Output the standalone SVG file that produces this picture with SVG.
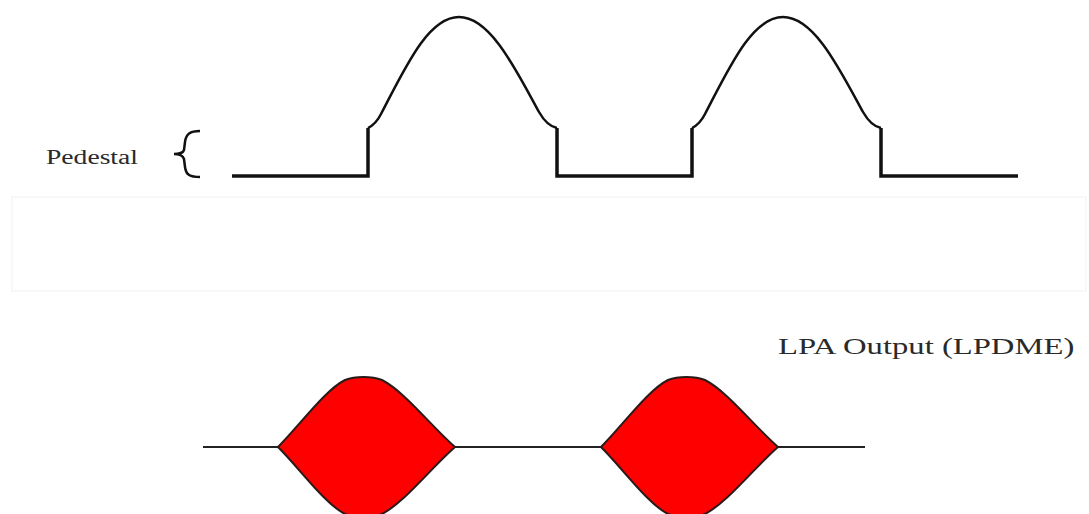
<svg xmlns="http://www.w3.org/2000/svg" width="1089" height="514" viewBox="0 0 1089 514">
<style>
.lbl{font-family:"Liberation Serif","Times New Roman",serif;fill:#2a2a2a}
.wave{fill:none;stroke:#111;stroke-linejoin:miter}
.lobe{fill:#ff0000;stroke:#2a1a1a;stroke-width:2}
</style>
<rect x="0" y="0" width="1089" height="514" fill="#fff"/>
<rect x="12" y="197" width="1074" height="94" fill="none" stroke="#f6f6f6" stroke-width="1.5"/>
<g id="pedestal-label">
<text class="lbl" transform="translate(46,164) scale(1.38,1)" font-size="20">Pedestal</text>
<path d="M200,131 C190,131 186,134 185,142 L184,150 C183,153 179,154 174,154 C179,154 183,156 184,159 L185,167 C186,175 190,177 200,177" fill="none" stroke="#111" stroke-width="2.5"/>
</g>
<g id="top-waveform">
<path class="wave" stroke-width="3.5" d="M232,176 H368 V128 M557,128 V176 H692 V128 M881,128 V176 H1018"/>
<path class="wave" stroke-width="2.5" d="M368,128 Q376,124 381,114 C405,68 428,17 459,17 C490,17 515,68 539,112 Q547,126 557,128"/>
<path class="wave" stroke-width="2.5" transform="translate(324,0)" d="M368,128 Q376,124 381,114 C405,68 428,17 459,17 C490,17 515,68 539,112 Q547,126 557,128"/>
</g>
<g id="lpa-label">
<text class="lbl" transform="translate(778,354) scale(1.42,1)" font-size="23">LPA Output (LPDME)</text>
</g>
<g id="bottom-waveform">
<path d="M203,447 H865" fill="none" stroke="#222" stroke-width="2"/>
<path class="lobe" d="M278,447 C300,425 325,390 345,380 C355,376 372,376 382,380 C405,392 430,425 455,447 C430,469 405,502 382,514 C372,518 355,518 345,514 C325,504 300,469 278,447 Z"/>
<path class="lobe" transform="translate(323,0)" d="M278,447 C300,425 325,390 345,380 C355,376 372,376 382,380 C405,392 430,425 455,447 C430,469 405,502 382,514 C372,518 355,518 345,514 C325,504 300,469 278,447 Z"/>
</g>
</svg>
